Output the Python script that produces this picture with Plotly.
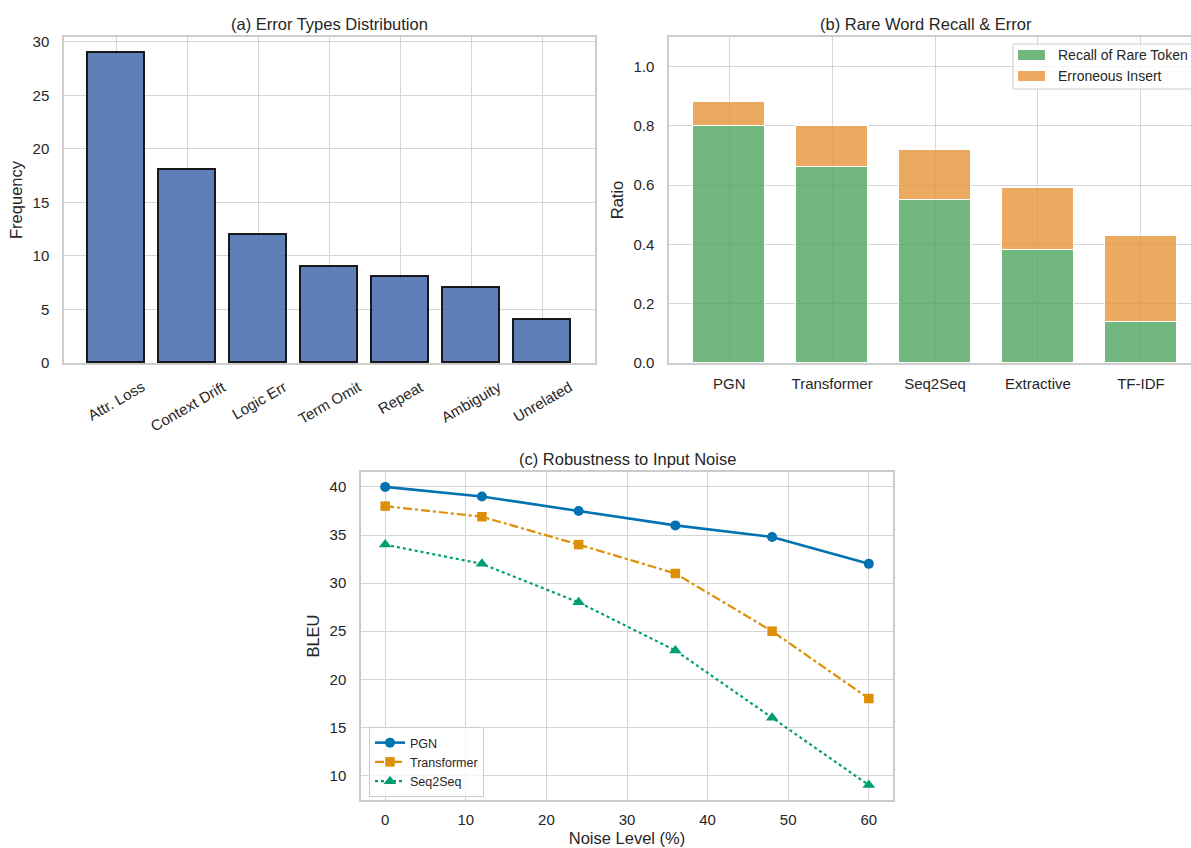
import plotly.graph_objects as go

# ---------------- data ----------------
error_types = ["Attr. Loss", "Context Drift", "Logic Err", "Term Omit", "Repeat", "Ambiguity", "Unrelated"]
error_freq = [29, 18, 12, 9, 8, 7, 4]

models = ["PGN", "Transformer", "Seq2Seq", "Extractive", "TF-IDF"]
recall_rare = [0.80, 0.66, 0.55, 0.38, 0.14]
erroneous_insert = [0.08, 0.14, 0.17, 0.21, 0.29]

noise_level = [0, 12, 24, 36, 48, 60]
bleu_pgn = [40, 39, 37.5, 36, 34.8, 32]
bleu_transformer = [38, 36.9, 34, 31, 25, 18]
bleu_seq2seq = [34, 32, 28, 23, 16, 9]

# ---------------- style ----------------
W, H = 1191, 848
FONT = "Liberation Sans, Arial, sans-serif"
TXT = "#262626"
SPINE = "#cccccc"
GRID = "#d5d5d5"
TICK = 15
LAB = 16.5
TITLE = 16.5


def px_x(p):
    return p / W


def px_y(p):
    return 1 - p / H


fig = go.Figure()

# (a) error types
fig.add_trace(go.Bar(
    x=error_types, y=error_freq, width=0.8,
    marker=dict(color="rgba(76,114,176,0.9)", line=dict(color="rgba(15,15,15,0.95)", width=1.8)),
    xaxis="x", yaxis="y", showlegend=False,
))

# (b) rare word recall & error (stacked)
fig.add_trace(go.Bar(
    x=models, y=recall_rare, width=0.7, name="Recall of Rare Token",
    marker=dict(color="rgba(79,165,95,0.8)", line=dict(color="white", width=1)),
    xaxis="x2", yaxis="y2", showlegend=False,
))
fig.add_trace(go.Bar(
    x=models, y=erroneous_insert, width=0.7, name="Erroneous Insert",
    marker=dict(color="rgba(231,147,56,0.8)", line=dict(color="white", width=1)),
    xaxis="x2", yaxis="y2", showlegend=False,
))

# (c) robustness
fig.add_trace(go.Scatter(
    x=noise_level, y=bleu_pgn, name="PGN", mode="lines+markers",
    line=dict(color="#0173b2", width=2.6),
    marker=dict(symbol="circle", size=10, color="#0173b2"),
    xaxis="x3", yaxis="y3",
))
fig.add_trace(go.Scatter(
    x=noise_level, y=bleu_transformer, name="Transformer", mode="lines+markers",
    line=dict(color="#de8f05", width=2.2, dash="dashdot"),
    marker=dict(symbol="square", size=9.5, color="#de8f05"),
    xaxis="x3", yaxis="y3",
))
fig.add_trace(go.Scatter(
    x=noise_level, y=bleu_seq2seq, name="Seq2Seq", mode="lines+markers",
    line=dict(color="#029e73", width=2.2, dash="dot"),
    marker=dict(symbol="triangle-up", size=11, color="#029e73"),
    xaxis="x3", yaxis="y3",
))

axis_common = dict(
    showline=True, linecolor=SPINE, linewidth=1.5,
    showgrid=True, gridcolor=GRID, gridwidth=1,
    zeroline=False, ticks="", automargin=False,
    tickfont=dict(family=FONT, size=TICK, color=TXT),
)

fig.update_layout(
    width=W, height=H, autosize=False,
    margin=dict(l=0, r=0, t=0, b=0, pad=0),
    paper_bgcolor="white", plot_bgcolor="white",
    barmode="stack", bargap=0,
    font=dict(family=FONT, color=TXT),
    xaxis=dict(axis_common, domain=[px_x(64), px_x(595)], anchor="y", mirror=True,
               range=[-0.74, 6.74], showticklabels=False, type="category"),
    yaxis=dict(axis_common, domain=[px_y(363), px_y(37)], anchor="x", mirror=True,
               range=[0, 30.45], dtick=5, tick0=0, ticklabelstandoff=10,
               title=dict(text="Frequency", font=dict(family=FONT, size=LAB, color=TXT), standoff=6)),
    xaxis2=dict(axis_common, domain=[px_x(669), 1.0], anchor="y2", mirror=True,
                range=[-0.585, 4.487], type="category", ticklabelstandoff=6),
    yaxis2=dict(axis_common, domain=[px_y(363), px_y(37)], anchor="x2", mirror=False,
                range=[0, 1.1], dtick=0.2, tick0=0, tickformat=".1f", ticklabelstandoff=10,
                title=dict(text="Ratio", font=dict(family=FONT, size=LAB, color=TXT), standoff=6)),
    xaxis3=dict(axis_common, domain=[px_x(361), px_x(893)], anchor="y3", mirror=True,
                range=[-3, 63], dtick=10, tick0=0, ticklabelstandoff=5,
                title=dict(text="Noise Level (%)", font=dict(family=FONT, size=LAB, color=TXT), standoff=6)),
    yaxis3=dict(axis_common, domain=[px_y(800), px_y(472)], anchor="x3", mirror=True,
                range=[7.45, 41.55], dtick=5, tick0=0, ticklabelstandoff=10,
                title=dict(text="BLEU", font=dict(family=FONT, size=LAB, color=TXT), standoff=6)),
    legend=dict(
        x=px_x(369), y=px_y(727), xanchor="left", yanchor="top",
        bgcolor="rgba(255,255,255,0.8)", bordercolor=SPINE, borderwidth=1,
        font=dict(family=FONT, size=12.5, color=TXT),
        tracegroupgap=0, itemwidth=30, traceorder="normal",
    ),
)

# titles
for txt, cx, cy in [
    ("(a) Error Types Distribution", (64 + 595) / 2, 24),
    ("(b) Rare Word Recall & Error", 926, 24),
    ("(c) Robustness to Input Noise", (361 + 893) / 2, 459),
]:
    fig.add_annotation(text=txt, x=px_x(cx), y=px_y(cy), xref="paper", yref="paper",
                       xanchor="center", yanchor="middle", showarrow=False,
                       font=dict(family=FONT, size=TITLE, color=TXT))

# rotated category labels for (a)
for cat in error_types:
    fig.add_annotation(text=cat, x=cat, xref="x", y=px_y(375), yref="paper",
                       xanchor="center", yanchor="top", textangle=-30, showarrow=False,
                       font=dict(family=FONT, size=TICK, color=TXT))

# manual legend for (b)
fig.add_shape(type="rect", xref="paper", yref="paper",
              x0=px_x(1013), x1=px_x(1200), y0=px_y(89), y1=px_y(44),
              line=dict(color=SPINE, width=1), fillcolor="rgba(255,255,255,0.8)")
for name, col, cy in [("Recall of Rare Token", "rgba(79,165,95,0.8)", 55),
                      ("Erroneous Insert", "rgba(231,147,56,0.8)", 76)]:
    fig.add_shape(type="rect", xref="paper", yref="paper",
                  x0=px_x(1018), x1=px_x(1045), y0=px_y(cy + 5), y1=px_y(cy - 5),
                  line=dict(width=0), fillcolor=col)
    fig.add_annotation(text=name, x=px_x(1056), y=px_y(cy), xref="paper", yref="paper",
                       xanchor="left", yanchor="middle", showarrow=False,
                       font=dict(family=FONT, size=14, color=TXT))

fig.write_html(
    "out.html",
    config={"displayModeBar": False},
    post_script="document.body.style.margin='0';document.body.style.padding='0';"
                "document.documentElement.style.margin='0';document.body.style.overflow='hidden';",
)
